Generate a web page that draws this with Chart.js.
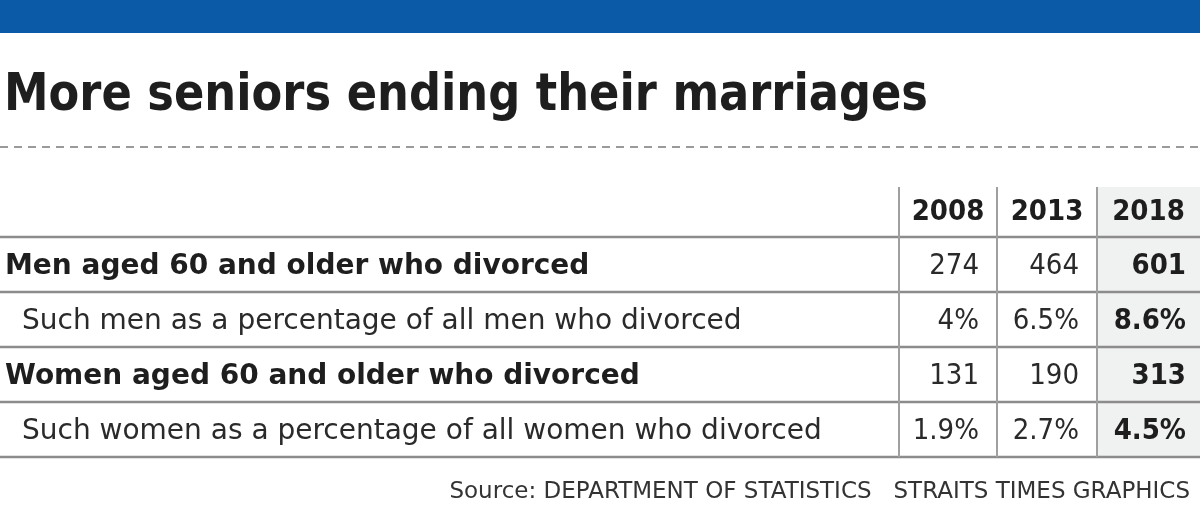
<!DOCTYPE html>
<html>
<head>
<meta charset="utf-8">
<script src="https://cdn.jsdelivr.net/npm/chart.js@4"></script>
<style>
  html, body { margin: 0; padding: 0; background: #fff; }
</style>
</head>
<body>
<canvas id="tableChart" width="1200" height="508"></canvas>
<script>
// Data
const years = ["2008", "2013", "2018"];
const rowLabels = [
  "Men aged 60 and older who divorced",
  "Such men as a percentage of all men who divorced",
  "Women aged 60 and older who divorced",
  "Such women as a percentage of all women who divorced",
];
const rowIsSub = [false, true, false, true];
const values2008 = ["274", "4%", "131", "1.9%"];
const values2013 = ["464", "6.5%", "190", "2.7%"];
const values2018 = ["601", "8.6%", "313", "4.5%"];
const columns = [values2008, values2013, values2018];

const title = "More seniors ending their marriages";
const source = "Source: DEPARTMENT OF STATISTICS   STRAITS TIMES GRAPHICS";

// column edges (label column, 2008, 2013, 2018)
const colEdges = [0, 899, 997, 1097, 1200];
const labelWidths = [598, 780, 645, 863];

const tablePlugin = {
  id: "tablePlugin",
  afterDraw(chart) {
    const ctx = chart.ctx;
    const y = chart.scales.y;
    const area = chart.chartArea;
    const top = area.top, bottom = area.bottom;
    const headTop = 187;
    ctx.save();

    // blue band
    ctx.fillStyle = "#0a5aa8";
    ctx.fillRect(0, 0, 1200, 33);

    // title
    ctx.fillStyle = "#1e1e1e";
    ctx.font = "bold 52px 'DejaVu Sans Condensed', 'DejaVu Sans'";
    ctx.textBaseline = "alphabetic";
    ctx.textAlign = "left";
    ctx.fillText(title, 4, 110, 924);

    // dashed separator
    ctx.strokeStyle = "#9a9a9a";
    ctx.lineWidth = 2;
    ctx.setLineDash([8, 6]);
    ctx.beginPath();
    ctx.moveTo(0, 147);
    ctx.lineTo(1200, 147);
    ctx.stroke();
    ctx.setLineDash([]);

    // shaded 2018 column
    ctx.fillStyle = "#f0f1f1";
    ctx.fillRect(colEdges[3], headTop, colEdges[4] - colEdges[3], bottom - headTop);

    // row lines
    const rowH = (bottom - top) / rowLabels.length;
    ctx.strokeStyle = "#8c8c8c";
    ctx.lineWidth = 2.5;
    for (let i = 0; i <= rowLabels.length; i++) {
      const ly = top + i * rowH;
      ctx.beginPath();
      ctx.moveTo(0, ly);
      ctx.lineTo(1200, ly);
      ctx.stroke();
    }
    // column lines
    ctx.lineWidth = 2;
    ctx.strokeStyle = "#a0a0a0";
    for (let c = 1; c <= 3; c++) {
      ctx.beginPath();
      ctx.moveTo(colEdges[c], headTop);
      ctx.lineTo(colEdges[c], bottom);
      ctx.stroke();
    }

    // header
    ctx.fillStyle = "#1e1e1e";
    ctx.textBaseline = "middle";
    ctx.textAlign = "center";
    ctx.font = "bold 29px 'DejaVu Sans Condensed', 'DejaVu Sans'";
    years.forEach((yr, c) => {
      ctx.fillText(yr, (colEdges[c + 1] + colEdges[c + 2]) / 2, 212, 80);
    });

    // rows
    rowLabels.forEach((lab, r) => {
      const cy = y.getPixelForValue(r) + 2;
      ctx.textAlign = "left";
      ctx.fillStyle = "#1e1e1e";
      if (rowIsSub[r]) {
        ctx.font = "28px 'DejaVu Sans'";
        ctx.fillStyle = "#2a2a2a";
        ctx.fillText(lab, 22, cy, labelWidths[r]);
      } else {
        ctx.font = "bold 28px 'DejaVu Sans'";
        ctx.fillText(lab, 5, cy, labelWidths[r]);
      }
      ctx.textAlign = "right";
      columns.forEach((col, c) => {
        const bold = c === 2;
        ctx.font = (bold ? "bold " : "") + "29px 'DejaVu Sans Condensed', 'DejaVu Sans'";
        ctx.fillStyle = bold ? "#1e1e1e" : "#2a2a2a";
        ctx.fillText(col[r], colEdges[c + 2] - (bold ? 14 : 18), cy, 85);
      });
    });

    // source
    ctx.textAlign = "right";
    ctx.textBaseline = "middle";
    ctx.fillStyle = "#333";
    ctx.font = "23px 'DejaVu Sans'";
    ctx.fillText(source, 1190, 492, 822);
    ctx.restore();
  },
};

new Chart(document.getElementById("tableChart"), {
  type: "bar",
  data: {
    labels: rowLabels,
    datasets: [{ data: [], backgroundColor: "transparent" }],
  },
  options: {
    responsive: false,
    animation: false,
    devicePixelRatio: 1,
    indexAxis: "y",
    layout: { padding: { top: 237, bottom: 51, left: 0, right: 0 } },
    scales: {
      x: { display: false, min: 0, max: 1 },
      y: { display: false, offset: true },
    },
    plugins: { legend: { display: false }, tooltip: { enabled: false } },
  },
  plugins: [tablePlugin],
});
</script>
</body>
</html>
